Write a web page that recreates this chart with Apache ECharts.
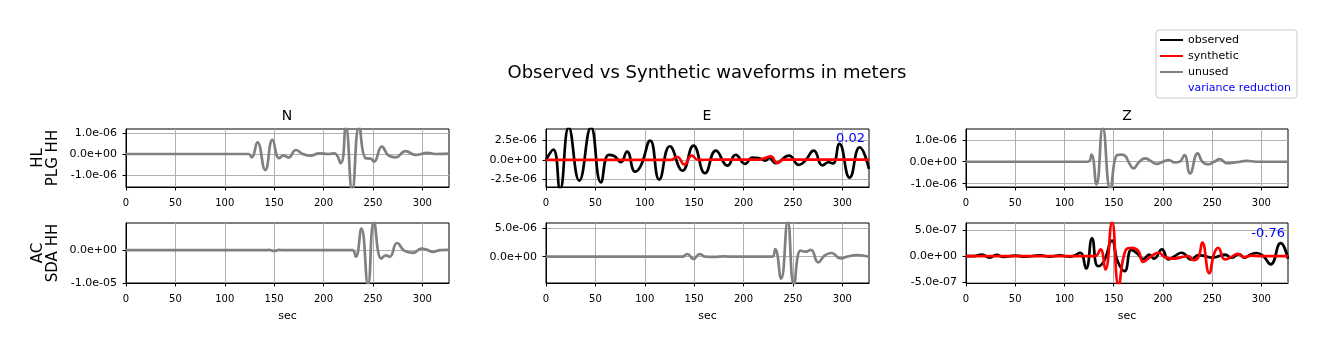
<!DOCTYPE html>
<html>
<head>
<meta charset="utf-8">
<title>Observed vs Synthetic waveforms</title>
<script src="https://cdn.jsdelivr.net/npm/echarts@6/dist/echarts.min.js"></script>
<style>
  html, body { margin: 0; padding: 0; background: #fff; }
  #main { width: 1329px; height: 351px; }
</style>
</head>
<body>
<div id="main"></div>
<script>
// all amplitudes below are in micrometres, times in seconds
const UM = 1e-6;

const xTicks = [0, 50, 100, 150, 200, 250, 300];

// station HL PLG HH
const hlN_unused = [[0,0],[60,0],[124,0],[127.4,-0.16],[133,0.56],[141,-0.76],[148.3,0.67],[155,-0.2],[159.5,-0.08],[164.5,-0.17],[172,0.19],[179,0.0],[187,-0.08],[195.5,0.03],[205,0.0],[211,0.03],[217.4,-0.44],[222.5,1.3],[229,-1.75],[236,1.3],[242.7,-0.2],[247.7,-0.22],[251,-0.36],[259,0.35],[266,-0.08],[273,-0.16],[283,0.14],[293,-0.04],[305,0.05],[315,0.0],[327,0.02]];
const hlE_obs = [[0,0],[7.4,1.34],[14.2,-3.8],[23,4.2],[33.7,-2.67],[45.5,4.2],[55.6,-2.9],[63.4,0.65],[69,0.5],[75.8,-0.3],[82,1.08],[90.3,-1.5],[96,-0.75],[105.5,2.5],[114.6,-2.54],[125.4,1.77],[138.2,-1.38],[149.3,1.85],[161,-1.72],[172,1.2],[183.7,-0.73],[192,0.65],[201.5,-0.5],[209,0.3],[215,0.25],[222,-0.1],[226,0.25],[232.5,-0.4],[246,0.56],[256,-0.65],[263,0.0],[271,1.2],[280,-0.7],[286,-0.3],[290.5,-0.45],[297,2.07],[307.4,-2.3],[317.5,1.64],[327,-1.16]];
const hlE_syn = [[0,0],[100,0],[126,0],[133,0.38],[140,-0.6],[147.5,0.56],[154,0],[170,0.05],[200,0.05],[216,0.05],[221,0.2],[227.5,0.45],[234,-0.39],[240,0.05],[260,0.05],[327,0.05]];
const hlZ_unused = [[0,0],[60,0],[124,0],[127.4,0.33],[132.5,-1.03],[138.9,1.55],[146.6,-1.25],[153.4,0.3],[158,0.32],[162,0.25],[165,0.0],[170.2,-0.3],[176,0.0],[182,0.15],[187,0.05],[193.8,-0.1],[200,0.0],[206,0.08],[212,-0.03],[217,0.0],[221.8,0.3],[227.5,-0.53],[235.3,0.38],[240,0.0],[246,-0.12],[252,0.0],[257.8,0.12],[265,-0.07],[275,-0.02],[285,0.04],[295,0.0],[327,0.0]];

// station AC SDA HH
const acN_unused = [[0,0],[100,0],[140,0],[145,0.1],[150,-0.2],[155,0.1],[160,0],[200,0],[229,0],[232.6,-2.0],[238.3,6.6],[245,-10.5],[251,8.6],[258.5,-2.55],[263,-1.6],[267,-2.0],[274.4,2.2],[282,-0.2],[290.5,-0.8],[299,0.5],[305,0.1],[310.7,-0.5],[318,0.0],[327,0.1]];
const acE_unused = [[0,0],[100,0],[138,0],[143,0.47],[149.3,-0.4],[155.7,0.47],[161,0],[170,-0.05],[180,0.05],[190,0],[229,0],[232,1.35],[238,-3.9],[244.7,6.2],[251,-4.9],[257.8,1.06],[263,0.9],[268,1.2],[275.7,-1.0],[282,0.2],[289,0.65],[298,-0.3],[305,0],[315,0.3],[327,0]];
const acZ_obs = [[0,0],[8,0],[16,0.03],[24,-0.03],[31,0.025],[38,-0.015],[50,0.01],[60,-0.01],[75,0.015],[85,-0.01],[95,0.015],[105,-0.01],[110,0.01],[116,0.065],[122,-0.24],[128,0.345],[134,-0.195],[140,-0.1],[148.3,0.3],[154,-0.1],[161,-0.29],[168,0.12],[174,0.05],[180,-0.06],[186,0.03],[191,-0.05],[199,0.13],[205.6,-0.065],[212,0.0],[219,0.065],[229,-0.065],[236,0.02],[243,0.0],[250,-0.03],[257,0.0],[263,0.03],[270,-0.03],[277,0.04],[283,-0.03],[289,0.03],[295,0.06],[302,0.0],[309.4,-0.16],[319.5,0.25],[327,-0.05]];
const acZ_syn = [[0,0],[100,0],[131,0],[136.5,0.13],[141.6,-0.26],[148.3,0.66],[155,-0.56],[161.8,0.1],[168.5,0.16],[175,0.1],[180,-0.11],[187,-0.02],[195.5,0.065],[202,-0.02],[210,-0.05],[220,-0.015],[226,0.0],[231,-0.08],[236,-0.02],[240,0.26],[247,-0.33],[252,0.05],[256,0.16],[263,-0.065],[270,-0.01],[276,0.045],[282,-0.02],[290,0.01],[300,0.0],[327,0.0]];

// y limits and tick labels (metres)
const yLimHLN = [-1.57e-6, 1.19e-6], yTicksHLN = [-1e-6, 0, 1e-6];
const yLimHLE = [-3.5e-6, 4.0e-6],   yTicksHLE = [-2.5e-6, 0, 2.5e-6];
const yLimHLZ = [-1.15e-6, 1.49e-6], yTicksHLZ = [-1e-6, 0, 1e-6];
const yLimACN = [-1.0e-5, 0.83e-5],  yTicksACN = [-1e-5, 0];
const yLimACE = [-4.65e-6, 5.95e-6], yTicksACE = [0, 5e-6];
const yLimACZ = [-5.2e-7, 6.4e-7],   yTicksACZ = [-5e-7, 0, 5e-7];

const varRed = ['0.02', '-0.76'];

const colors = { observed: '#000000', synthetic: '#ff0000', unused: '#808080' };
const FONT = 'DejaVu Sans';

function sci(v) {
  if (Math.abs(v) < 1e-20) return '0.0e+00';
  const parts = Number(v).toExponential(1).split('e');
  const sign = parts[1][0] === '-' ? '-' : '+';
  const exp = parts[1].replace(/[+-]/, '');
  return parts[0] + 'e' + sign + (exp.length < 2 ? '0' + exp : exp);
}

const panels = [
  { left: 126, top: 129, width: 323, height: 58, lim: yLimHLN, ticks: yTicksHLN, traces: [['unused', hlN_unused]] },
  { left: 546, top: 129, width: 323, height: 58, lim: yLimHLE, ticks: yTicksHLE, traces: [['observed', hlE_obs], ['synthetic', hlE_syn]] },
  { left: 966, top: 129, width: 322, height: 58, lim: yLimHLZ, ticks: yTicksHLZ, traces: [['unused', hlZ_unused]] },
  { left: 126, top: 223, width: 323, height: 60, lim: yLimACN, ticks: yTicksACN, traces: [['unused', acN_unused]], sec: true },
  { left: 546, top: 223, width: 323, height: 60, lim: yLimACE, ticks: yTicksACE, traces: [['unused', acE_unused]], sec: true },
  { left: 966, top: 223, width: 322, height: 60, lim: yLimACZ, ticks: yTicksACZ, traces: [['observed', acZ_obs], ['synthetic', acZ_syn]], sec: true }
];

const grids = [], xAxes = [], yAxes = [], series = [];
const gridLine = { show: true, lineStyle: { color: '#b0b0b0', width: 1 } };

panels.forEach(function (p, i) {
  grids.push({
    left: p.left, top: p.top, width: p.width, height: p.height,
    show: true, borderColor: '#000', borderWidth: 1, backgroundColor: 'transparent'
  });
  xAxes.push({
    type: 'value', gridIndex: i, min: 0, max: 327,
    axisLine: { show: true, onZero: false, lineStyle: { color: '#000', width: 1 } },
    axisTick: { show: true, length: 3.5, lineStyle: { color: '#000' }, customValues: xTicks },
    axisLabel: { customValues: xTicks, fontSize: 10, color: '#000', margin: 11, fontFamily: FONT },
    splitLine: gridLine,
    name: p.sec ? 'sec' : '', nameLocation: 'middle', nameGap: 28,
    nameTextStyle: { fontSize: 11, color: '#000', fontFamily: FONT }
  });
  yAxes.push({
    type: 'value', gridIndex: i, min: p.lim[0], max: p.lim[1],
    axisLine: { show: true, onZero: false, lineStyle: { color: '#000', width: 1 } },
    axisTick: { show: true, length: 3.5, lineStyle: { color: '#000' }, customValues: p.ticks },
    axisLabel: { customValues: p.ticks, fontSize: 11, color: '#000', margin: 9, fontFamily: FONT, formatter: sci },
    splitLine: gridLine
  });
  p.traces.forEach(function (tr) {
    series.push({
      name: tr[0], type: 'line', xAxisIndex: i, yAxisIndex: i,
      data: tr[1].map(function (d) { return [d[0], d[1] * UM]; }),
      smooth: 0.5, symbol: 'none', silent: true,
      lineStyle: { width: 2.7, color: colors[tr[0]] },
      itemStyle: { color: colors[tr[0]] }
    });
  });
});

// empty entry so the legend can show the blue "variance reduction" label
series.push({ name: 'variance reduction', type: 'line', xAxisIndex: 0, yAxisIndex: 0, data: [], symbol: 'none',
  lineStyle: { color: 'transparent' }, itemStyle: { color: 'transparent' } });

const chart = echarts.init(document.getElementById('main'));
chart.setOption({
  animation: false,
  grid: grids,
  xAxis: xAxes,
  yAxis: yAxes,
  series: series,
  legend: {
    orient: 'vertical', left: 1156, top: 30,
    padding: [3, 6, 3, 4], itemGap: 2, itemWidth: 23, itemHeight: 2, itemTextGap: 14,
    icon: 'rect',
    backgroundColor: '#fff', borderColor: '#cccccc', borderWidth: 1, borderRadius: 3,
    textStyle: { fontSize: 11, color: '#000', fontFamily: FONT, lineHeight: 14 },
    data: [
      { name: 'observed' },
      { name: 'synthetic' },
      { name: 'unused' },
      { name: 'variance reduction', itemStyle: { opacity: 0 }, textStyle: { color: '#0000ff' } }
    ]
  },
  graphic: [
    { type: 'text', x: 707, y: 73, style: { text: 'Observed vs Synthetic waveforms in meters', font: '18px "DejaVu Sans"', fill: '#000', align: 'center', verticalAlign: 'middle' } },
    { type: 'text', x: 287, y: 116, style: { text: 'N', font: '14px "DejaVu Sans"', fill: '#000', align: 'center', verticalAlign: 'middle' } },
    { type: 'text', x: 707, y: 116, style: { text: 'E', font: '14px "DejaVu Sans"', fill: '#000', align: 'center', verticalAlign: 'middle' } },
    { type: 'text', x: 1127, y: 116, style: { text: 'Z', font: '14px "DejaVu Sans"', fill: '#000', align: 'center', verticalAlign: 'middle' } },
    { type: 'text', x: 46, y: 158, rotation: Math.PI / 2, style: { text: 'HL\nPLG HH', font: '15px "DejaVu Sans"', lineHeight: 15, fill: '#000', align: 'center', verticalAlign: 'middle' } },
    { type: 'text', x: 46, y: 253, rotation: Math.PI / 2, style: { text: 'AC\nSDA HH', font: '15px "DejaVu Sans"', lineHeight: 15, fill: '#000', align: 'center', verticalAlign: 'middle' } },
    { type: 'text', x: 865, y: 139, z: 10, style: { text: varRed[0], font: '13px "DejaVu Sans"', fill: '#0000ff', align: 'right', verticalAlign: 'middle' } },
    { type: 'text', x: 1285, y: 234, z: 10, style: { text: varRed[1], font: '13px "DejaVu Sans"', fill: '#0000ff', align: 'right', verticalAlign: 'middle' } }
  ]
});
</script>
</body>
</html>
